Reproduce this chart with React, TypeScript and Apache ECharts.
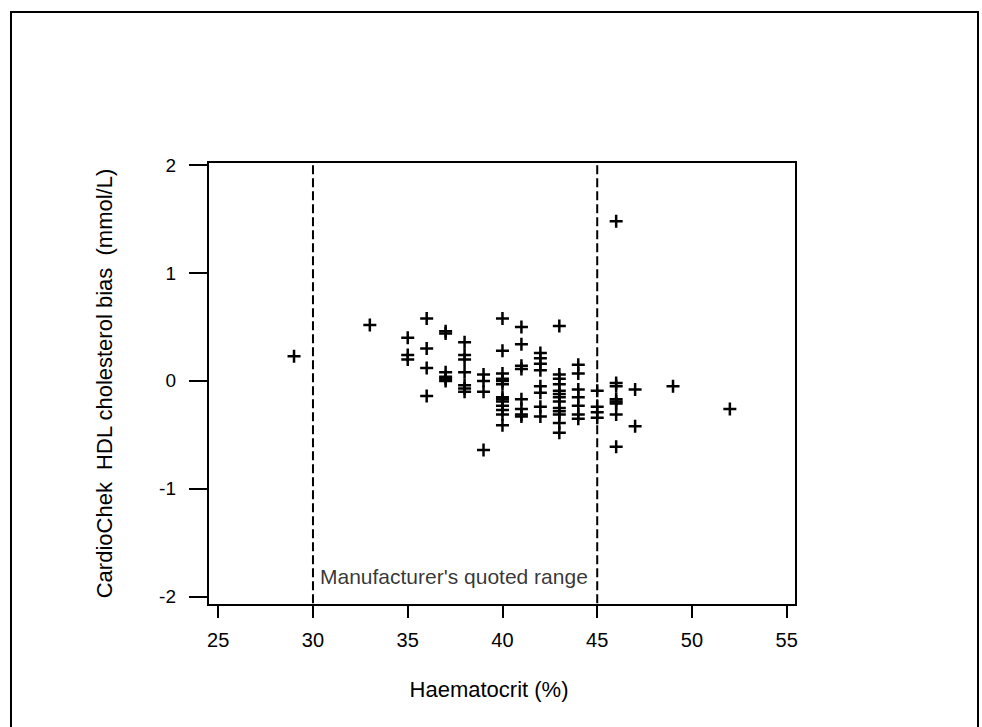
import React, { useEffect, useRef } from "react";
import * as echarts from "echarts";

// Haematocrit (%) and CardioChek HDL cholesterol bias (mmol/L), one entry per subject
const haematocrit: number[] = [
  29,
  33,
  35, 35, 35,
  36, 36, 36, 36,
  37, 37, 37, 37, 37, 37,
  38, 38, 38, 38, 38, 38, 38,
  39, 39, 39, 39,
  40, 40, 40, 40, 40, 40, 40, 40, 40, 40, 40, 40, 40,
  41, 41, 41, 41, 41, 41, 41, 41,
  42, 42, 42, 42, 42, 42, 42, 42,
  43, 43, 43, 43, 43, 43, 43, 43, 43, 43, 43, 43, 43,
  44, 44, 44, 44, 44, 44, 44,
  45, 45, 45, 45,
  46, 46, 46, 46, 46, 46, 46, 46,
  47, 47,
  49,
  52,
];
const bias: number[] = [
  0.23,
  0.52,
  0.40, 0.24, 0.20,
  0.58, 0.30, 0.12, -0.14,
  0.46, 0.44, 0.08, 0.04, 0.02, 0.00,
  0.36, 0.24, 0.20, 0.08, -0.04, -0.07, -0.10,
  0.06, 0.00, -0.10, -0.64,
  0.58, 0.28, 0.07, 0.02, 0.00, -0.03, -0.15, -0.17, -0.19, -0.23, -0.27, -0.31, -0.41,
  0.50, 0.34, 0.14, 0.11, -0.17, -0.26, -0.31, -0.33,
  0.26, 0.21, 0.16, 0.10, -0.05, -0.11, -0.24, -0.33,
  0.51, 0.06, 0.02, -0.03, -0.09, -0.12, -0.15, -0.19, -0.25, -0.28, -0.31, -0.39, -0.48,
  0.15, 0.07, -0.08, -0.15, -0.23, -0.31, -0.35,
  -0.09, -0.24, -0.29, -0.34,
  1.48, -0.02, -0.05, -0.17, -0.19, -0.21, -0.31, -0.61,
  -0.08, -0.42,
  -0.05,
  -0.26,
];

// Manufacturer's quoted haematocrit range
const quotedRange: number[] = [30, 45];
const rangeLabel = "Manufacturer's quoted range";
const rangeLabelY = -1.81;

const xTicks: number[] = [25, 30, 35, 40, 45, 50, 55];
const yTicks: number[] = [-2, -1, 0, 1, 2];
const xRange: number[] = [24.46, 55.49];
const yRange: number[] = [-2.077, 2.03];

const xTitle = "Haematocrit (%)";
const yTitle = "CardioChek  HDL cholesterol bias  (mmol/L)";

const SANS = "'Liberation Sans', Arial, sans-serif";
const PLUS = "path://M5.25,0H7.75V5.25H13V7.75H7.75V13H5.25V7.75H0V5.25H5.25Z";

export default function App() {
  const ref = useRef<HTMLDivElement>(null);

  useEffect(() => {
    if (!ref.current) return;
    const chart = echarts.init(ref.current, null, { renderer: "svg" });
    const points = haematocrit.map((h, i) => [h, bias[i]]);
    const rangeSeries = quotedRange.map((v) => ({
      type: "line",
      data: [
        [v, yTicks[yTicks.length - 1]],
        [v, yRange[0]],
      ],
      symbol: "none",
      silent: true,
      lineStyle: { color: "#000", width: 2, type: [9, 4] },
      z: 1,
    }));

    chart.setOption({
      animation: false,
      backgroundColor: "#fff",
      graphic: [
        {
          type: "rect",
          shape: { x: 11, y: 12, width: 967, height: 740 },
          style: { fill: "none", stroke: "#000", lineWidth: 2 },
          silent: true,
        },
      ],
      grid: {
        left: 208,
        top: 162,
        right: 186,
        bottom: 122,
        show: true,
        borderColor: "#000",
        borderWidth: 2,
        backgroundColor: "transparent",
      },
      xAxis: {
        type: "value",
        min: xRange[0],
        max: xRange[1],
        name: xTitle,
        nameLocation: "middle",
        nameGap: 73,
        nameTextStyle: { fontFamily: SANS, fontSize: 22, color: "#000", padding: [0, 26, 0, 0] },
        axisLine: { show: false, onZero: false },
        axisTick: { show: true, length: 13, lineStyle: { color: "#000", width: 2 }, customValues: xTicks },
        axisLabel: { fontFamily: SANS, fontSize: 20, color: "#000", margin: 25, customValues: xTicks },
        splitLine: { show: false },
      },
      yAxis: {
        type: "value",
        min: yRange[0],
        max: yRange[1],
        name: yTitle,
        nameLocation: "middle",
        nameGap: 93,
        nameTextStyle: { fontFamily: SANS, fontSize: 22, color: "#000" },
        axisLine: { show: false, onZero: false },
        axisTick: { show: true, length: 19, lineStyle: { color: "#000", width: 2 }, customValues: yTicks },
        axisLabel: { fontFamily: SANS, fontSize: 19, color: "#000", margin: 32, customValues: yTicks },
        splitLine: { show: false },
      },
      series: [
        ...rangeSeries,
        {
          type: "scatter",
          data: [[quotedRange[0], rangeLabelY]],
          symbolSize: 0,
          silent: true,
          label: {
            show: true,
            position: "right",
            distance: 7,
            formatter: rangeLabel,
            fontFamily: SANS,
            fontSize: 21,
            color: "#000",
            textBorderWidth: 0,
          },
          z: 2,
        },
        {
          type: "scatter",
          data: points,
          symbol: PLUS,
          symbolSize: 13,
          itemStyle: { color: "#000", opacity: 1 },
          z: 3,
        },
      ],
    });
    return () => chart.dispose();
  }, []);

  return (
    <div
      ref={ref}
      style={{ position: "fixed", left: 0, top: 0, width: 982, height: 727, background: "#fff" }}
    />
  );
}
